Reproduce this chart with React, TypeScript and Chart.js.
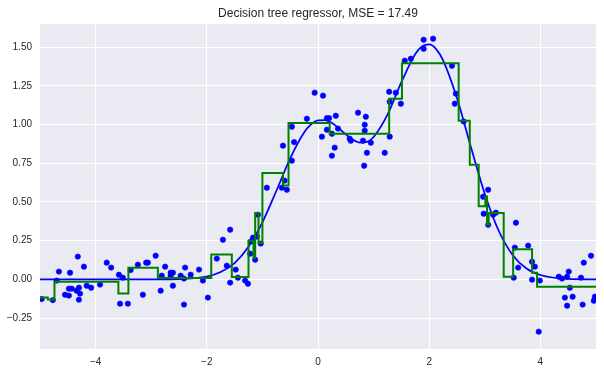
import { useEffect, useRef } from 'react';
import { Chart, registerables } from 'chart.js';

Chart.register(...registerables);

const titleText = 'Decision tree regressor, MSE = 17.49';

const xTicks = [-4, -2, 0, 2, 4];
const yTicks = [-0.25, 0, 0.25, 0.5, 0.75, 1, 1.25, 1.5];

// noisy training samples
const sampleX = [
  -4.97, -4.77, -4.70, -4.66, -4.55, -4.48, -4.48, -4.43, -4.46, -4.32,
  -4.21, -4.34, -4.30, -4.28, -4.30, -4.16, -4.08, -3.92, -3.80, -3.72,
  -3.58, -3.51, -3.56, -3.42, -3.37, -3.24, -3.15, -3.09, -3.06, -2.92,
  -2.83, -2.81, -2.75, -2.65, -2.61, -2.65, -2.61, -2.47, -2.39, -2.41,
  -2.41, -2.29, -2.14, -2.07, -1.98, -1.82, -1.71, -1.58, -1.64, -1.58,
  -1.48, -1.44, -1.31, -1.26, -1.22, -1.21, -1.17, -1.13, -1.10, -1.08,
  -1.03, -0.92, -0.65, -0.60, -0.56, -0.63, -0.47, -0.43, -0.47, -0.20,
  -0.06, 0.09, 0.16, 0.20, 0.16, 0.07, 0.25, 0.32, 0.36, 0.30,
  0.25, 0.57, 0.59, 0.72, 0.86, 0.84, 0.84, 0.81, 0.95, 0.88,
  0.83, 1.20, 1.29, 1.28, 1.40, 1.49, 1.29, 1.56, 1.67, 1.90,
  1.90, 2.07, 2.41, 2.48, 2.46, 2.62, 2.97, 3.06, 2.98, 3.06,
  3.15, 3.20, 3.56, 3.54, 3.78, 3.60, 3.52, 3.85, 3.90, 3.85,
  3.99, 3.97, 4.33, 4.39, 4.48, 4.51, 4.53, 4.44, 4.48, 4.58,
  4.73, 4.76, 4.78, 4.91, 4.98, 4.96,
];
const sampleY = [
  -0.127, -0.134, -0.008, 0.050, -0.099, -0.105, -0.060, -0.060, 0.043, 0.147,
  0.082, -0.073, -0.054, -0.092, -0.131, -0.041, -0.054, -0.034, 0.108, 0.076,
  0.030, 0.011, -0.157, -0.157, 0.060, 0.095, -0.099, 0.108, 0.108, 0.153,
  -0.073, 0.024, 0.082, 0.043, 0.043, 0.024, -0.041, 0.024, 0.076, -0.163,
  0.005, 0.030, 0.063, -0.008, -0.118, 0.134, 0.256, 0.321, 0.088, -0.021,
  0.063, 0.011, -0.008, -0.028, 0.166, 0.244, 0.269, 0.127, 0.276, 0.418,
  0.231, 0.592, 0.592, 0.638, 0.579, 0.864, 0.767, 0.887, 0.986, 1.038,
  1.206, 1.187, 1.042, 1.042, 0.967, 0.922, 0.941, 1.057, 0.974, 0.851,
  0.799, 0.909, 0.896, 1.077, 1.051, 0.999, 0.961, 0.896, 0.883, 0.818,
  0.734, 0.818, 0.922, 1.212, 1.206, 1.135, 1.148, 1.413, 1.426, 1.548,
  1.490, 1.555, 1.380, 1.200, 1.135, 1.020, 0.534, 0.579, 0.424, 0.353,
  0.418, 0.431, 0.366, 0.205, 0.218, 0.076, 0.011, 0.114, 0.082, -0.002,
  -0.008, -0.338, 0.017, 0.005, 0.017, 0.050, -0.054, -0.118, -0.170, -0.112,
  0.011, -0.163, 0.108, 0.153, -0.112, -0.138,
];

// true function (blue)
const curveX = [
  -5, -4.5, -4, -3.5, -3, -2.5, -2, -1.75, -1.5, -1.25,
  -1, -0.75, -0.5, -0.25, -0.125, 0, 0.125, 0.25, 0.5, 0.625,
  0.75, 0.875, 1, 1.25, 1.5, 1.75, 1.875, 2, 2.125, 2.25,
  2.5, 2.75, 3, 3.25, 3.5, 3.75, 4, 4.5, 5,
];
const curveY = [
  0, 0, 0, 0, 0.0001, 0.002, 0.018, 0.047, 0.105, 0.21,
  0.368, 0.571, 0.782, 0.949, 1.001, 1.027, 1.029, 1.01, 0.937, 0.903,
  0.884, 0.888, 0.92, 1.064, 1.274, 1.456, 1.506, 1.518, 1.488, 1.415,
  1.17, 0.855, 0.552, 0.314, 0.158, 0.07, 0.028, 0.003, 0,
];

// decision tree prediction (green step function): level starts at treeX[i]
const treeX = [
  -5, -4.86, -4.74, -3.59, -3.41, -2.88, -1.92, -1.55, -1.25, -1.16,
  -1.13, -1.07, -1.0, -0.63, -0.53, 0.21, 1.28, 1.51, 2.53, 2.73,
  2.89, 3.01, 3.04, 3.07, 3.34, 3.51, 3.85, 3.94, 5,
];
const treeY = [
  -0.118, -0.13, -0.015, -0.092, 0.075, 0.009, 0.16, 0.015, 0.25, 0.14,
  0.428, 0.235, 0.687, 0.607, 1.01, 0.941, 1.167, 1.397, 1.025, 0.741,
  0.472, 0.536, 0.353, 0.428, 0.017, 0.194, 0.043, -0.047, -0.047,
];

const FONT = "'Liberation Sans', Arial, sans-serif";
const TEXT = '#262626';

const fmt = (v: number, d: number) => (v < 0 ? '\u2212' : '') + Math.abs(v).toFixed(d);

const decorPlugin = {
  id: 'decor',
  beforeDraw(chart: any) {
    const { ctx, chartArea } = chart;
    ctx.save();
    ctx.fillStyle = '#EAEAF2';
    ctx.fillRect(chartArea.left, chartArea.top, chartArea.right - chartArea.left, chartArea.bottom - chartArea.top);
    ctx.restore();
  },
  afterDraw(chart: any) {
    const { ctx, chartArea } = chart;
    ctx.save();
    ctx.fillStyle = TEXT;
    ctx.font = `12px ${FONT}`;
    ctx.textAlign = 'center';
    ctx.textBaseline = 'middle';
    ctx.fillText(titleText, (chartArea.left + chartArea.right) / 2, 13.5);
    ctx.restore();
  },
};

export default function App() {
  const ref = useRef<HTMLCanvasElement>(null);
  useEffect(() => {
    document.body.style.margin = '0';
    const points = sampleX.map((x, i) => ({ x, y: sampleY[i] }));
    const curve = curveX.map((x, i) => ({ x, y: curveY[i] }));
    const tree = treeX.map((x, i) => ({ x, y: treeY[i] }));
    const chart = new Chart(ref.current as HTMLCanvasElement, {
      type: 'line',
      data: {
        datasets: [
          {
            data: tree,
            borderColor: '#008000',
            borderWidth: 2,
            pointRadius: 0,
            stepped: 'before',
            fill: false,
            order: 0,
            clip: 0,
          } as any,
          {
            data: curve,
            borderColor: '#0000ff',
            borderWidth: 1.75,
            pointRadius: 0,
            cubicInterpolationMode: 'monotone',
            fill: false,
            order: 1,
            clip: 0,
          } as any,
          {
            data: points,
            showLine: false,
            pointRadius: 2.7,
            pointBackgroundColor: '#0000ff',
            pointBorderColor: '#0000ff',
            pointBorderWidth: 0.6,
            order: 2,
            clip: 0,
          } as any,
        ],
      },
      options: {
        responsive: false,
        animation: false,
        events: [],
        layout: { padding: { top: 24, right: 8, left: 0, bottom: 0 } },
        plugins: { legend: { display: false }, tooltip: { enabled: false }, title: { display: false } },
        scales: {
          x: {
            type: 'linear',
            min: -5,
            max: 5,
            afterBuildTicks: (s: any) => {
              s.ticks = xTicks.map((v) => ({ value: v }));
            },
            afterFit: (s: any) => {
              s.height = 21;
            },
            grid: { color: '#ffffff', lineWidth: 1, drawTicks: false },
            border: { display: false },
            ticks: {
              padding: 7,
              color: TEXT,
              font: { family: FONT, size: 10 },
              callback: (v: any) => fmt(Number(v), 0),
            },
          },
          y: {
            type: 'linear',
            min: -0.45,
            max: 1.65,
            afterBuildTicks: (s: any) => {
              s.ticks = yTicks.map((v) => ({ value: v }));
            },
            afterFit: (s: any) => {
              s.width = 40;
            },
            grid: { color: '#ffffff', lineWidth: 1, drawTicks: false },
            border: { display: false },
            ticks: {
              padding: 8,
              color: TEXT,
              font: { family: FONT, size: 10 },
              callback: (v: any) => fmt(Number(v), 2),
            },
          },
        },
      } as any,
      plugins: [decorPlugin],
    });
    return () => chart.destroy();
  }, []);
  return (
    <div style={{ position: 'absolute', left: 0, top: 0, width: 604, height: 370, background: '#fff' }}>
      <canvas ref={ref} width={604} height={370} style={{ display: 'block' }} />
    </div>
  );
}
